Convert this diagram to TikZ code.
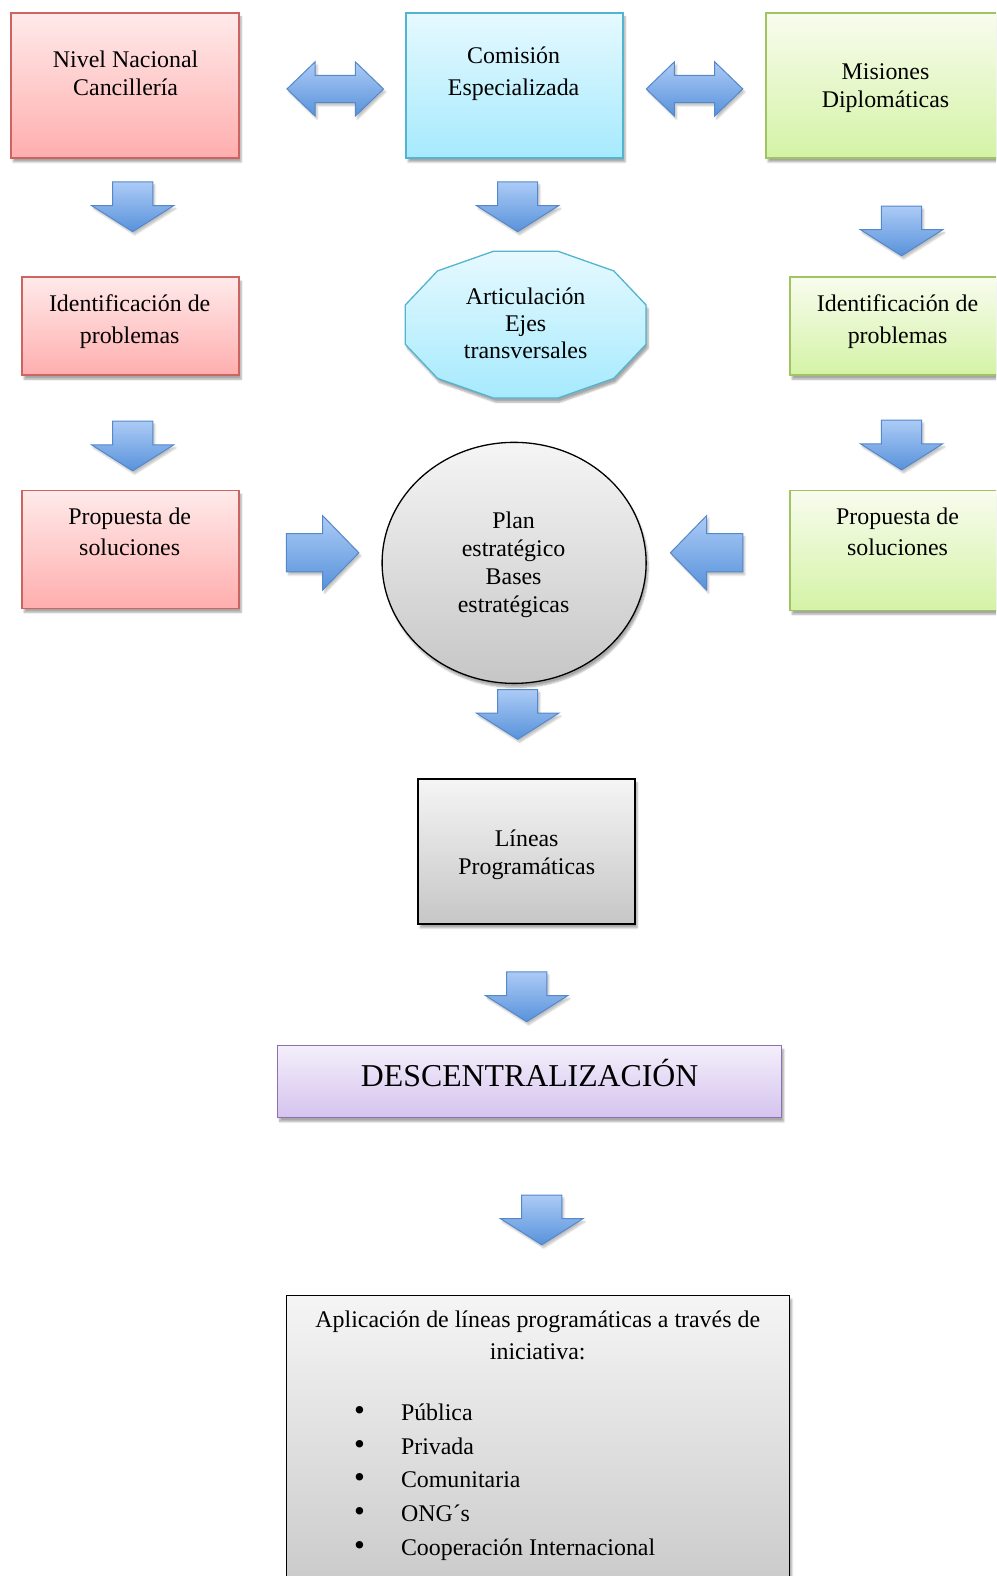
\documentclass[tikz,border=0pt]{standalone}
\usepackage{fontspec}
\setmainfont{Liberation Serif}
\usetikzlibrary{shapes.geometric,shadows.blur}

\definecolor{redtop}{RGB}{255,234,234}
\definecolor{redbot}{RGB}{255,174,174}
\definecolor{redline}{RGB}{206,100,98}
\definecolor{bluetop}{RGB}{230,249,255}
\definecolor{bluebot}{RGB}{166,234,253}
\definecolor{blueline}{RGB}{82,180,206}
\definecolor{greentop}{RGB}{248,252,238}
\definecolor{greenbot}{RGB}{212,243,166}
\definecolor{greenline}{RGB}{162,195,98}
\definecolor{graytop}{RGB}{245,245,245}
\definecolor{graybot}{RGB}{198,198,198}
\definecolor{purptop}{RGB}{244,239,251}
\definecolor{purpbot}{RGB}{213,195,238}
\definecolor{purpline}{RGB}{142,112,178}
\definecolor{arrtop}{RGB}{172,203,246}
\definecolor{arrbot}{RGB}{88,146,219}
\definecolor{arrline}{RGB}{84,136,202}

\tikzset{
  dnarr/.pic={\path[blockarr] (-20,0) -- (20,0) -- (20,23.5) -- (41,23.5) -- (0,49.5) -- (-41,23.5) -- (-20,23.5) -- cycle;},
  rtarr/.pic={\path[blockarr] (0,-19) -- (36,-19) -- (36,-37) -- (72,0) -- (36,37) -- (36,19) -- (0,19) -- cycle;},
  lfarr/.pic={\path[blockarr] (0,-19) -- (-36,-19) -- (-36,-37) -- (-72,0) -- (-36,37) -- (-36,19) -- (0,19) -- cycle;},
  dblarr/.pic={\path[blockarr] (0,0) -- (28,-27) -- (28,-13.5) -- (68,-13.5) -- (68,-27) -- (96,0) -- (68,27) -- (68,13.5) -- (28,13.5) -- (28,27) -- cycle;}
}

\begin{document}
\begin{tikzpicture}[x=1.005pt,y=-1.005pt,
  shade/.style={blur shadow={shadow blur steps=6,shadow xshift=2pt,shadow yshift=-4pt,shadow opacity=35}},
  box/.style={rectangle, inner sep=0pt, line width=1.4pt, shade},
  redbox/.style={box, draw=redline, top color=redtop, bottom color=redbot},
  bluebox/.style={box, draw=blueline, top color=bluetop, bottom color=bluebot},
  greenbox/.style={box, draw=greenline, top color=greentop, bottom color=greenbot},
  graybox/.style={box, draw=black, top color=graytop, bottom color=graybot},
  purpbox/.style={box, draw=purpline, top color=purptop, bottom color=purpbot},
  blockarr/.style={draw=arrline, line width=1pt, top color=arrtop, bottom color=arrbot,
    blur shadow={shadow blur steps=5,shadow xshift=2pt,shadow yshift=-3pt,shadow opacity=25}},
  txt/.style={align=center, inner sep=0pt, font=\fontsize{23.9}{28}\selectfont}]
\clip (0,0) rectangle (991,1568);

% top row
\node[redbox, minimum width=228, minimum height=145] (nivel) at (124.5,85) {};
\node[txt] (nivelt) at (125,73) {Nivel Nacional\\Cancillería};
\node[bluebox, minimum width=217, minimum height=145] (comision) at (512,85) {};
\node[txt] (comisiont) at (511,73.5) {Comisión\\[4pt]Especializada};
\node[greenbox, minimum width=239, minimum height=145] (misiones) at (881,85) {};
\node[txt] (misionest) at (881,87.5) {Misiones\\Diplomáticas};
\pic at (285.5,88.5) {dblarr};
\pic at (643,88.5) {dblarr};

% second row
\pic at (132,181) {dnarr};
\pic at (515,181) {dnarr};
\pic at (897,205) {dnarr};
\node[redbox, minimum width=217, minimum height=98] (identl) at (130,324.5) {};
\node[txt] (identlt) at (129,319.5) {Identificación de\\[4pt]problemas};
\node[greenbox, minimum width=217, minimum height=98] (identr) at (894,324.5) {};
\node[txt] (identrt) at (893,319.5) {Identificación de\\[4pt]problemas};
\begin{scope}[shift={(523,323)}]
  \path[draw=blueline, line width=1.3pt, top color=bluetop, bottom color=bluebot, shade]
    (15:124 and 75.6) \foreach \a in {45,75,...,345} { -- (\a:124 and 75.6) } -- cycle;
\end{scope}
\node[txt] (articult) at (523,322) {Articulación\\[-1pt]Ejes\\[-1pt]transversales};

% third row
\pic at (132,419) {dnarr};
\pic at (897,418) {dnarr};
\node[redbox, minimum width=217, minimum height=118] (propl) at (130,546.5) {};
\node[txt] (proplt) at (129,529) {Propuesta de\\[3pt]soluciones};
\node[greenbox, minimum width=217, minimum height=120] (propr) at (894,547.5) {};
\node[txt] (proprt) at (893,529) {Propuesta de\\[3pt]soluciones};
\pic at (285,550) {rtarr};
\pic at (739,550) {lfarr};
\node[ellipse, draw=black, line width=1.3pt, top color=graytop, bottom color=graybot, shade,
  minimum width=264, minimum height=241, inner sep=0pt] (plan) at (511.5,560) {};
\node[txt] (plant) at (511,562) {Plan\\estratégico\\Bases\\estratégicas};

% lower column
\pic at (515,686) {dnarr};
\node[graybox, minimum width=217, minimum height=145] (lineas) at (524,847) {};
\node[txt] (lineast) at (524,850) {Líneas\\Programáticas};
\pic at (524,967) {dnarr};
\node[purpbox, minimum width=504, minimum height=72] (descen) at (527,1076) {};
\node[txt, font=\fontsize{31.8}{36}\selectfont] (descent) at (527,1067.5) {DESCENTRALIZACIÓN};
\pic at (539,1189) {dnarr};
\node[graybox, minimum width=503, minimum height=320] (aplic) at (535.5,1448) {};
\node[txt] (aplict) at (535,1329) {Aplicación de líneas programáticas a través de\\[4pt]iniciativa:};
\node[txt, align=left, anchor=west, font=\fontsize{23.9}{33.7}\selectfont] (iniciat) at (352,1474.5)
  {\makebox[47pt][l]{\scalebox{1.3}{\textbullet}}Pública\\
   \makebox[47pt][l]{\scalebox{1.3}{\textbullet}}Privada\\
   \makebox[47pt][l]{\scalebox{1.3}{\textbullet}}Comunitaria\\
   \makebox[47pt][l]{\scalebox{1.3}{\textbullet}}ONG´s\\
   \makebox[47pt][l]{\scalebox{1.3}{\textbullet}}Cooperación Internacional};
\end{tikzpicture}
\end{document}
